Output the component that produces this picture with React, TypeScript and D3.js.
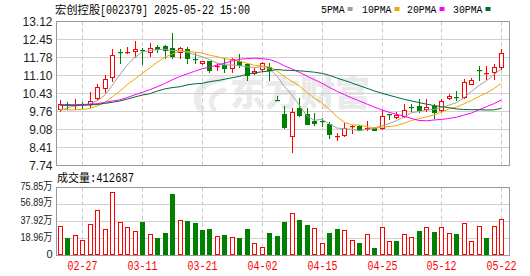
import React from 'react';
import * as d3 from 'd3';

const dates = [
  '02-24','02-25','02-26','02-27','02-28',
  '03-03','03-04','03-05','03-06','03-07','03-10','03-11','03-12','03-13','03-14',
  '03-17','03-18','03-19','03-20','03-21','03-24','03-25','03-26','03-27','03-28','03-31',
  '04-01','04-02','04-03','04-07','04-08','04-09','04-10','04-11','04-14','04-15',
  '04-16','04-17','04-18','04-21','04-22','04-23','04-24','04-25','04-28','04-29','04-30',
  '05-06','05-07','05-08','05-09','05-12','05-13','05-14','05-15','05-16','05-19','05-20','05-21','05-22'
];

const opens = [9.84,10.03,9.98,10.04,10.03,10.25,10.62,11.06,11.99,11.93,12.02,12.06,11.99,12.16,12.20,12.12,11.99,12.08,11.73,11.56,11.64,11.41,11.49,11.37,11.64,11.53,11.21,11.35,11.43,10.20,9.66,8.83,9.88,9.65,9.41,9.39,9.28,8.80,8.88,9.17,9.23,9.10,9.15,9.13,9.67,9.55,9.60,9.93,9.96,9.86,9.96,9.81,10.26,10.30,10.29,10.80,11.31,11.16,11.22,11.43];
const highs = [10.19,10.12,10.22,10.13,10.48,10.77,11.12,12.09,12.08,12.18,12.39,12.12,12.31,12.24,12.24,12.68,12.18,12.16,11.93,11.66,11.66,11.56,11.74,11.74,11.89,11.58,11.37,11.62,11.56,10.33,9.97,9.88,10.25,9.90,9.70,9.50,9.38,8.96,9.32,9.25,9.25,9.40,9.18,9.81,9.68,9.75,10.03,10.04,10.21,10.21,10.03,10.22,10.42,10.52,10.96,11.00,11.47,11.47,11.52,12.09];
const lows = [9.78,9.85,9.85,9.87,9.94,10.19,10.50,10.90,11.58,11.93,11.80,11.54,11.84,11.99,11.77,11.77,11.77,11.56,11.58,11.54,11.22,11.31,11.22,11.24,11.43,10.93,11.15,11.28,10.93,10.18,9.14,8.24,9.59,9.28,9.25,9.23,8.78,8.69,8.85,8.94,9.05,9.07,9.06,9.10,9.47,9.50,9.56,9.79,9.75,9.78,9.50,9.78,10.22,10.19,10.25,10.77,10.92,10.97,10.97,11.35];
const closes = [10.03,9.99,10.00,10.01,10.15,10.67,10.98,11.87,11.95,11.98,12.09,12.03,12.12,12.11,12.05,11.83,12.12,11.74,11.69,11.64,11.31,11.45,11.39,11.71,11.49,11.12,11.27,11.56,11.31,10.18,9.16,9.73,9.63,9.30,9.31,9.36,8.91,8.83,9.15,9.22,9.07,9.15,9.08,9.59,9.64,9.63,9.81,9.89,9.81,9.93,9.75,10.15,10.33,10.26,10.85,10.92,11.26,11.20,11.41,11.93];

// volumes in 万 (10k shares)
const volumes = [33.3,20.0,23.3,17.8,35.5,51.1,30.0,71.1,37.8,32.2,27.8,37.0,24.4,19.2,24.8,68.1,39.2,38.1,35.9,28.1,29.2,22.2,23.3,21.1,19.2,29.2,14.4,10.0,24.8,21.4,37.0,47.4,39.2,34.4,30.7,14.4,25.5,29.2,28.9,17.8,14.4,24.1,8.9,31.8,16.3,16.7,24.1,21.1,27.8,31.8,26.7,31.8,25.2,24.4,36.3,16.3,33.0,20.0,33.0,41.27];

// moving-average values before enough in-window closes exist
const ma5Head = [9.77, 9.90, 9.97, 10.00];
const ma10Head = [9.84, 9.82, 9.82, 9.83, 9.87, 9.96, 10.10, 10.30, 10.52];
const ma20Head = [10.01, 10.01, 10.01, 10.02, 10.03, 10.05, 10.10, 10.15, 10.19, 10.28, 10.38, 10.47, 10.57, 10.68, 10.80, 10.94, 11.06, 11.16, 11.26];
const ma30Head = [9.99, 9.99, 9.99, 9.99, 10.00, 10.02, 10.06, 10.10, 10.15, 10.22, 10.30, 10.37, 10.42, 10.52, 10.60, 10.65, 10.68, 10.75, 10.79, 10.81, 10.87, 10.91, 10.96, 11.02, 11.07, 11.15, 11.20, 11.24, 11.27];

const priceTicks = ['13.12','12.45','11.78','11.10','10.43','9.76','9.08','8.41','7.74'];
const volTicks = ['75.85万','56.89万','37.92万','18.96万','0'];
const labelDates = ['02-27','03-11','03-21','04-02','04-15','04-25','05-12','05-22'];

const maDefs = [
  { name: '5PMA', n: 5, head: ma5Head, color: '#a0a0a0' },
  { name: '10PMA', n: 10, head: ma10Head, color: '#f5a500' },
  { name: '20PMA', n: 20, head: ma20Head, color: '#ff00ff' },
  { name: '30PMA', n: 30, head: ma30Head, color: '#006a33' },
];

const RED = '#ff0000';
const GREEN = '#008000';
const MONO = '"Liberation Mono", "DejaVu Sans Mono", monospace';
const CJK = '"Noto Sans CJK SC", sans-serif';
const SANS = '"Liberation Sans", Arial, sans-serif';

function movingAvg(n: number, head: number[]) {
  return closes.map((c, i) => (i < n - 1 ? head[i] : (d3.mean(closes.slice(i - n + 1, i + 1)) as number)));
}

export default function App() {
  const W = 530, H = 276;
  const left = 56.5, right = 509.5;
  const pTop = 21.5, pBot = 165.5;
  const vTop = 187.5, vBot = 255.5;

  const x = d3.scaleLinear().domain([0, dates.length - 1]).range([59.9, 501.2]);
  const pMin = +priceTicks[priceTicks.length - 1];
  const pMax = +priceTicks[0];
  const y = d3.scaleLinear().domain([pMin, pMax]).range([pBot, pTop]);
  const vMax = parseFloat(volTicks[0]);
  const yv = d3.scaleLinear().domain([0, vMax]).range([vBot, vTop]);

  const pTickVals = priceTicks.map((t) => +t);
  const vTickVals = volTicks.map((t) => parseFloat(t));

  const labelIdx = labelDates.map((d) => dates.indexOf(d));

  const line = d3
    .line<number>()
    .x((_, i) => x(i))
    .y((v) => y(v));

  return (
    <div style={{ position: 'absolute', left: 0, top: 0 }}>
      <svg width={W} height={H} style={{ display: 'block', background: '#fff' }}>
        {/* watermark */}
        <g>
          <path d="M222 79 C203 80 191 96 201 109" fill="none" stroke="#ebebeb" strokeWidth={7} strokeLinecap="round" />
          <path d="M224 90 C212 93 208 103 214 109" fill="none" stroke="#ebebeb" strokeWidth={5} strokeLinecap="round" />
          <text x={230} y={106} fontFamily={CJK} fontWeight={900} fontSize={35} fill="#eaeaea">东方财富</text>
        </g>

        {/* price grid */}
        {pTickVals.map((t, k) => (
          <line key={'pg' + k} x1={left} x2={right} y1={Math.round(y(t) - 0.5) + 0.5} y2={Math.round(y(t) - 0.5) + 0.5} stroke="#d0d0d0" />
        ))}
        {labelIdx.map((i, k) => (
          <line key={'pv' + k} x1={Math.round(x(i)) + 0.5} x2={Math.round(x(i)) + 0.5} y1={pTop} y2={pBot} stroke="#c8c8c8" strokeDasharray="4,3" />
        ))}
        <rect x={left} y={pTop} width={right - left} height={pBot - pTop} fill="none" stroke="#999" />

        {/* volume grid */}
        {vTickVals.map((t, k) => (
          <line key={'vg' + k} x1={left} x2={right} y1={Math.round(yv(t) - 0.5) + 0.5} y2={Math.round(yv(t) - 0.5) + 0.5} stroke="#d0d0d0" />
        ))}
        {labelIdx.map((i, k) => (
          <line key={'vv' + k} x1={Math.round(x(i)) + 0.5} x2={Math.round(x(i)) + 0.5} y1={vTop} y2={vBot} stroke="#c8c8c8" strokeDasharray="4,3" />
        ))}
        <rect x={left} y={vTop} width={right - left} height={vBot - vTop} fill="none" stroke="#999" />

        {/* candles */}
        {dates.map((d, i) => {
          const o = opens[i], c = closes[i], h = highs[i], l = lows[i];
          const up = c >= o;
          const col = up ? RED : GREEN;
          const cx = Math.round(x(i));
          const yt = Math.round(y(Math.max(o, c)));
          const yb = Math.round(y(Math.min(o, c)));
          const yh = Math.round(y(h));
          const yl = Math.round(y(l));
          const bh = yb - yt;
          return (
            <g key={'c' + i}>
              <line x1={cx + 0.5} x2={cx + 0.5} y1={yh} y2={yl + 1} stroke={col} />
              {bh < 2 ? (
                <rect x={cx - 2} y={yt} width={5} height={1.2} fill={col} />
              ) : up ? (
                <rect x={cx - 1.5} y={yt + 0.5} width={4} height={bh} fill="#fff" stroke={col} />
              ) : (
                <rect x={cx - 2} y={yt} width={5} height={bh + 1} fill={col} />
              )}
            </g>
          );
        })}

        {/* moving averages */}
        {maDefs.map((m) => (
          <path key={m.name} d={line(movingAvg(m.n, m.head)) || ''} fill="none" stroke={m.color} strokeWidth={1} />
        ))}

        {/* volume bars */}
        {volumes.map((v, i) => {
          const prev = i === 0 ? opens[0] : closes[i - 1];
          const up = closes[i] >= prev;
          const cx = Math.round(x(i));
          const yt = Math.round(yv(v));
          const hgt = Math.round(vBot - 0.5) - yt;
          return up ? (
            <rect key={'v' + i} x={cx - 1.5} y={yt + 0.5} width={4} height={hgt - 1} fill="#fff" stroke={RED} />
          ) : (
            <rect key={'v' + i} x={cx - 2} y={yt} width={5} height={hgt} fill={GREEN} />
          );
        })}

        {/* price axis labels */}
        {priceTicks.map((t, k) => (
          <text key={'pl' + k} x={52.5} y={y(pTickVals[k]) + 4.3} textAnchor="end" fontFamily={SANS} fontSize={12} fill="#222">{t}</text>
        ))}
        {/* volume axis labels */}
        {volTicks.map((t, k) => (
          <text key={'vl' + k} x={52.5} y={yv(vTickVals[k]) + 2} textAnchor="end" fontFamily={SANS + ', ' + CJK} fontSize={11} fill="#222"
            {...(t.length > 2 ? { textLength: 32, lengthAdjust: 'spacingAndGlyphs' } : {})}>{t}</text>
        ))}

        {/* x labels */}
        {labelDates.map((d, k) => (
          <text key={'xl' + k} x={Math.round(x(labelIdx[k])) - 14.5} y={270} fontFamily={MONO} fontSize={12} fill={RED}
            textLength={30} lengthAdjust="spacingAndGlyphs">{d}</text>
        ))}

        {/* title */}
        <text x={55} y={13.5} fontFamily={CJK} fontSize={11.3} fill="#000">宏创控股</text>
        <text x={100} y={13.5} fontFamily={MONO} fontSize={12} fill="#000" textLength={150} lengthAdjust="spacingAndGlyphs">[002379] 2025-05-22 15:00</text>

        {/* legend */}
        {maDefs.map((m, k) => {
          const xs = [321, 362, 407, 453][k];
          const tw = m.name.length * 5.9;
          return (
            <g key={'lg' + k}>
              <text x={xs} y={12.5} fontFamily={MONO} fontSize={11} fill="#000" textLength={tw} lengthAdjust="spacingAndGlyphs">{m.name}</text>
              <rect x={xs + tw + 3} y={7} width={5} height={4} fill={m.color} />
            </g>
          );
        })}

        {/* volume title */}
        <text x={57} y={181.5} fontFamily={CJK} fontSize={11} fill="#000">成交量</text>
        <text x={90} y={181.5} fontFamily={MONO} fontSize={12} fill="#000" textLength={44} lengthAdjust="spacingAndGlyphs">:412687</text>
      </svg>
    </div>
  );
}
